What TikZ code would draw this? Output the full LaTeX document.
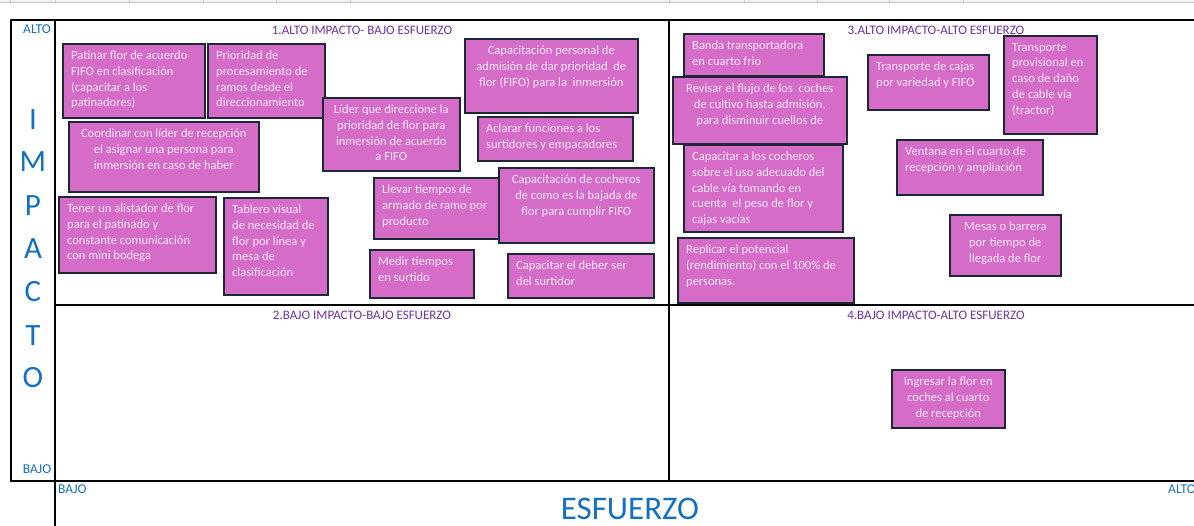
\documentclass[tikz,border=0pt]{standalone}
\usepackage{fontspec}
\setmainfont{Carlito}
\definecolor{boxfill}{RGB}{212,108,200}
\definecolor{boxline}{RGB}{28,40,54}
\definecolor{boxtext}{RGB}{250,232,246}
\definecolor{axisblue}{RGB}{20,112,192}
\definecolor{quadpurple}{RGB}{112,48,160}
\definecolor{sheetgray}{RGB}{200,200,200}
\tikzset{
  qb/.style={draw=boxline, line width=1.6pt, fill=boxfill, inner sep=0pt, rectangle},
  qt/.style={text=boxtext, inner sep=0pt, font=\fontsize{12.5}{15.7}\selectfont},
  grid/.style={line width=1.5pt, black},
  quad/.style={text=quadpurple, font=\fontsize{13}{15}\selectfont, inner sep=0pt},
  axsmall/.style={text=axisblue, font=\fontsize{13.5}{15}\selectfont, inner sep=0pt},
  axbig/.style={text=axisblue, font=\fontsize{31}{34}\selectfont, inner sep=0pt},
}
% left aligned: name, x, y, width, height, text
\newcommand\qboxl[6]{%
  \node[qb, anchor=north west, minimum width=#4pt, minimum height=#5pt] (#1) at (#2,#3) {};
  \node[qt, anchor=north west, align=left] (#1t) at ([xshift=9pt,yshift=-8pt]#1.north west) {#6};
}
% centred: name, x, y, width, height, text
\newcommand\qboxc[6]{%
  \node[qb, anchor=north west, minimum width=#4pt, minimum height=#5pt] (#1) at (#2,#3) {};
  \node[qt, anchor=north, align=center] (#1t) at ([yshift=-8pt]#1.north) {#6};
}
\begin{document}
\begin{tikzpicture}[x=1pt,y=-1pt]
\useasboundingbox (0,0) rectangle (1194,526);
% spreadsheet header remnant
\fill[gray!12] (0,0) rectangle (1194,3);
\draw[sheetgray, line width=1pt] (0,3) -- (1194,3);
\foreach \tx in {10,55,129,203,276,350,669,744,817,889,963}
  \draw[sheetgray, line width=0.8pt] (\tx,0) -- (\tx,3);
% frame
\coordinate (tl) at (11,20);
\coordinate (tr) at (1194,20);
\coordinate (bl) at (11,481);
\coordinate (br) at (1194,481);
\draw[grid] (tr) -- (tl) -- (bl) -- (br);
\draw[grid] (55,20) -- (55,526);
\draw[grid] (669,20) -- (669,481);
\draw[grid] (55,305) -- (1194,305);
% axis labels
\node[axsmall] (altoy) at (37,29) {ALTO};
\node[axsmall] (bajoy) at (37,469) {BAJO};
\node[axsmall, anchor=west] (bajox) at (58,489) {BAJO};
\node[axsmall, anchor=west] (altox) at (1168,489) {ALTO};
\foreach \l/\yy [count=\i] in {I/120,M/162,P/206,A/249,C/292,T/336,O/378}
  \node[axbig] (imp\i) at (33,\yy) {\l};
\node[axbig, anchor=base, font=\fontsize{33}{34}\selectfont] (esf) at (630,519) {ESFUERZO};
% quadrant titles
\node[quad] (q1) at (362,30) {1.ALTO IMPACTO- BAJO ESFUERZO};
\node[quad] (q3) at (936,30) {3.ALTO IMPACTO-ALTO ESFUERZO};
\node[quad] (q2) at (362,315) {2.BAJO IMPACTO-BAJO ESFUERZO};
\node[quad] (q4) at (936,315) {4.BAJO IMPACTO-ALTO ESFUERZO};
% quadrant 1
\qboxl{b1}{62}{43}{142}{74}{Patinar flor de acuerdo\\FIFO en clasificación\\(capacitar a los\\patinadores)}
\qboxl{b2}{207}{43}{117}{74}{Prioridad de\\procesamiento de\\ramos desde el\\direccionamiento}
\qboxc{b3}{68}{121}{190}{70}{Coordinar con líder de recepción\\el asignar una persona para\\inmersión en caso de haber}
\qboxl{b4}{58}{196}{157}{76}{Tener un alistador de flor\\para el patinado y\\constante comunicación\\con mini bodega}
\qboxl{b5}{223}{197}{104}{97}{Tablero visual\\de necesidad de\\flor por línea y\\mesa de\\clasificación}
\qboxc{b6}{322}{97}{137}{73}{Líder que direccione la\\prioridad de flor para\\inmersión de acuerdo\\a FIFO}
\qboxc{b7}{464}{38}{173}{74}{Capacitación personal de\\admisión de dar prioridad~ de\\flor (FIFO) para la~ inmersión}
\qboxl{b8}{477}{116}{155}{44}{Aclarar funciones a los\\surtidores y empacadores}
\qboxl{b9}{373}{177}{130}{61}{Llevar tiempos de\\armado de ramo por\\producto}
\qboxc{b10}{498}{167}{155}{75}{Capacitación de cocheros\\de como es la bajada de\\flor para cumplir FIFO}
\qboxl{b11}{369}{249}{104}{48}{Medir tiempos\\en surtido}
\qboxl{b12}{507}{253}{146}{44}{Capacitar el deber ser\\del surtidor}
% quadrant 3
\qboxl{b13}{683}{33}{140}{42}{Banda transportadora\\en cuarto frio}
\qboxc{b14}{672}{76}{174}{67}{Revisar el flujo de los~ coches\\de cultivo hasta admisión,\\para disminuir cuellos de}
\qboxl{b15}{683}{144}{159}{87}{Capacitar a los cocheros\\sobre el uso adecuado del\\cable vía tomando en\\cuenta~ el peso de flor y\\cajas vacías}
\qboxl{b16}{677}{237}{176}{65}{Replicar el potencial\\(rendimiento) con el 100\% de\\personas.}
\qboxl{b17}{867}{54}{121}{55}{Transporte de cajas\\por variedad y FIFO}
\qboxl{b18}{1003}{35}{93}{98}{Transporte\\provisional en\\caso de daño\\de cable vía\\(tractor)}
\qboxl{b19}{896}{139}{146}{55}{Ventana en el cuarto de\\recepción y ampliación}
\qboxc{b20}{949}{214}{111}{61}{Mesas o barrera\\por tiempo de\\llegada de flor}
% quadrant 4
\qboxc{b21}{891}{369}{113}{58}{Ingresar la flor en\\coches al cuarto\\de recepción}
\end{tikzpicture}
\end{document}
